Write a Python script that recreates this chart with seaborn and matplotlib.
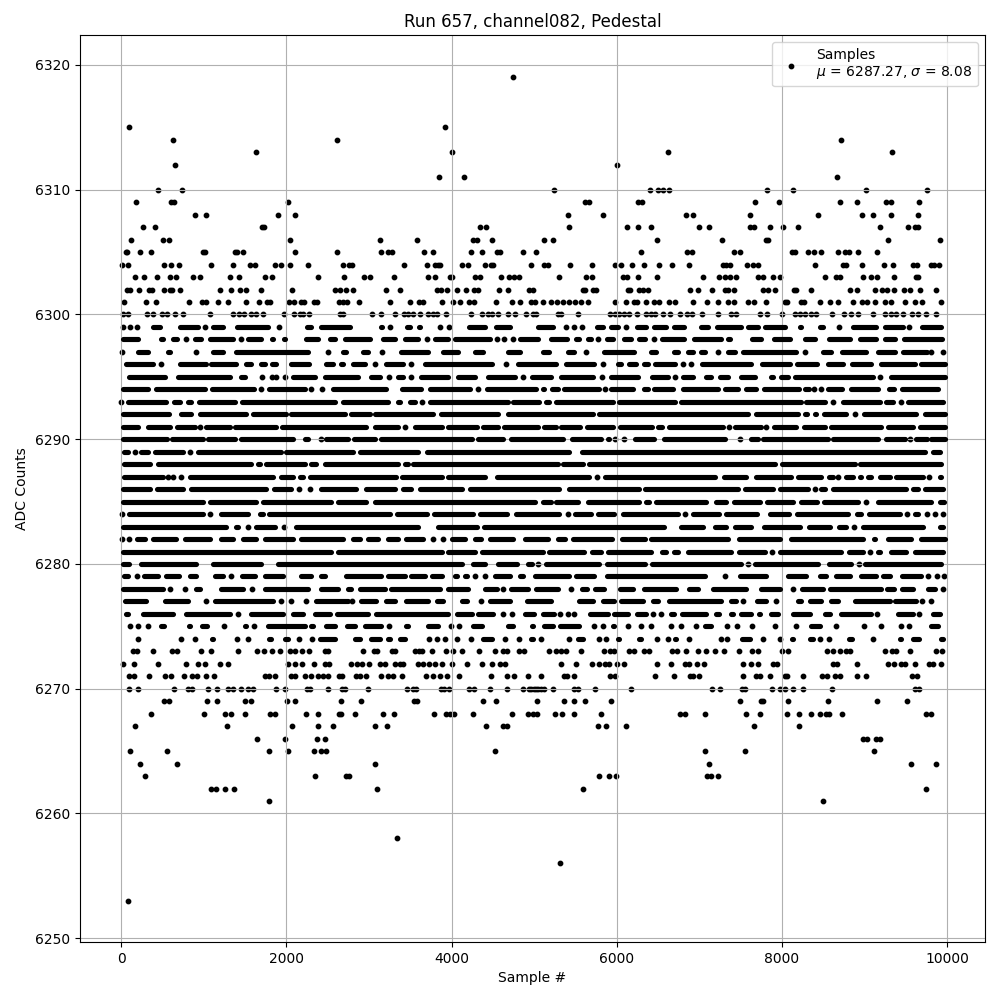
import matplotlib
matplotlib.use("Agg")
import matplotlib.pyplot as plt
import pandas as pd
import seaborn as sns

# Samples. An int is a lone sample; a (start, end) tuple is
# a stretch of one ADC level where the samples overlap into a solid run.
row_6319 = [4747]
row_6315 = [93, 3923]
row_6314 = [626, 2614, 8715]
row_6313 = [1632, 4008, 6618, 9333]
row_6312 = [650, 6000]
row_6311 = [3850, 4153, 8666]
row_6310 = [444, 735, 5236, 6404, 6497, 6561, 6630, 7818, 8133, 9018, 9757]
row_6309 = [178, 598, 634, 2020, 5612, 5661, 6255, 6303, 7673, 7963, 8703, 8909, 9260, 9321, 9660]
row_6308 = [893, 1026, 1899, 2105, 5406, 5830, 6836, 6921, 7612, 8436, 8969, 9103, 9321, 9648]
row_6307 = [263, 408, 1709, 1733, 4343, 4412, 5418, 6121, 6255, 6412, 6994, 7115, 7608, 7656, 7854, 8012, 8194, 9188, 9527, 9608, 9648]
row_6306 = [117, 505, 578, 2044, 3135, 3583, 4262, 4311, 4492, 5115, 5224, 6485, 7273, 7802, 7826, 9285, 9915]
row_6305 = [61, 77, 226, 360, 990, 1018, 1374, 1402, 1475, 2105, 2614, 3147, 3232, 3285, 3668, 3777, 4238, 4363, 4545, 4585, 4868, 5026, 6291, 6848, 6909, 7418, 7491, 8121, 8153, 8315, 8388, 8472, 8679, 8763, 8812, 8921, 9151]
row_6304 = [8, 81, 517, 602, 699, 1087, 1353, 1559, 1620, 1862, 1935, 2044, 2262, 2687, 2759, 2796, 3426, 3705, 3798, 3838, 3866, 4129, 4202, 4408, 4472, 4505, 4965, 5115, 5164, 5430, 5697, 5984, 6053, 6190, 6327, 6509, 6667, 6873, 7285, 7325, 7366, 7576, 7648, 7709, 8400, 8739, 8771, 8969, 9236, 9345, 9588, 9640, 9802, 9838, 9903]
row_6303 = [166, 275, 432, 590, 663, 869, 953, 1317, 1426, 1741, 1822, 2384, 2699, 2941, 3014, 3305, 3717, 3802, 3979, 4004, 4286, 4343, 4594, 4699, 4759, 4812, 5297, 5624, 5697, 6073, 6121, 6255, 6485, 7042, 7236, 7305, 7366, 7446, 7709, 7770, 7891, 7980, 8521, 8650, 8699, 8982, 9078, 9151, 9357, 9628, 9652]
row_6302 = [73, 113, 214, 343, 376, 517, 586, 610, 711, 1196, 1329, 1438, 1511, 1697, 2068, 2590, 2646, 2719, 2808, 3208, 3377, 3826, 3878, 3947, 4068, 4177, 4274, 4323, 4577, 4686, 4941, 4989, 5588, 5620, 5709, 5750, 6133, 6166, 6267, 6315, 6376, 6885, 6982, 7151, 7305, 7345, 7418, 7770, 7830, 7911, 8145, 8174, 8351, 8828, 8909, 9127, 9212, 9272, 9357, 9478, 9551, 9676, 9866]
row_6301 = [32, 299, 420, 820, 978, 1030, 1172, 1293, 1511, 1669, 1765, 1798, 2032, 2093, 2182, 2214, 2335, 2376, 2638, 2687, 2735, 2881, 3256, 3503, 3608, 3656, 3886, 4020, 4105, 4214, 4274, 4541, 4735, 4828, 4957, 5010, 5103, 5204, 5273, 5345, 5418, 5499, 5572, 5649, 5976, 6109, 6214, 6242, 6351, 6448, 6517, 6638, 6703, 6921, 7091, 7224, 7345, 7418, 7588, 7660, 7806, 8032, 8060, 8234, 8262, 8460, 8578, 8679, 8860, 8969, 9030, 9127, 9248, 9321, 9495, 9612, 9697, 9927]
row_6300 = [20, 81, 311, 384, 493, 553, 650, 747, 1078, 1353, 1426, 1487, 1576, 1636, 1717, 1971, 2093, 2161, 2202, 2275, 2654, 2687, 3038, 3147, 3317, 3426, 3474, 3535, 3620, 3717, 3777, 3818, 3935, 4238, 4371, 4444, 4492, 4561, 4686, 4771, 4901, 4989, 5022, 5285, 5325, 5527, 5915, 5984, 6032, 6093, 6154, 6242, 6351, 6416, 6469, 6558, 6646, 6764, 6848, 6909, 7030, 7224, 7386, 7446, 7729, 7818, 8000, 8153, 8214, 8275, 8355, 8416, 8606, 8751, 8836, 8921, 9107, 9248, 9325, 9386, 9466, 9575, 9644, 9741, 9866]
row_6299 = [20, 109, 190, (283, 311), (364, 485), (687, 950), 1018, (1091, 1252), (1386, 1798), 1911, (2093, 2141), (2230, 2323), (2404, 2788), (3002, 3030), (3123, 3184), 3256, (3341, 3373), (3442, 3515), (3584, 3636), 3862, 3967, (4190, 4426), (4513, 4727), (4820, 4836), (5023, 5245), 5386, 5487, 5580, (5737, 5850), (5911, 6032), 6113, (6226, 6376), (6436, 6618), (6671, 6840), (7002, 7123), (7196, 7527), (7568, 7729), (7770, 8052), (8194, 8255), (8327, 8376), (8436, 8517), (8598, 8626), 8691, (8840, 9163), (9224, 9487), 9539, (9677, 9943)]
row_6298 = [(0, 230), (364, 404), (465, 525), (606, 699), 788, (869, 990), (1050, 1374), 1454, (1515, 1717), (1806, 1858), (1947, 2000), (2222, 2404), (2505, 2606), (2687, 3030), (3151, 3333), (3414, 3616), 3697, (3778, 3975), (4020, 4480), 4545, 4638, 4739, (4808, 5063), (5184, 5418), (5487, 5568), (5629, 5710), 5770, (5863, 5971), (6073, 6194), (6255, 6356), 6448, (6525, 6840), (6921, 7285), (7325, 7386), (7616, 7770), (7883, 8113), (8174, 8194), (8255, 8416), (8545, 8840), (8921, 9163), (9224, 9386), (9459, 9952)]
row_6297 = [12, (182, 343), (545, 606), (768, 808), 909, (1091, 1252), (1374, 2283), (2384, 2404), 2505, (2666, 2747), (2909, 3010), 3159, (3373, 3737), (3878, 4101), (4262, 4404), (4525, 4565), (4666, 4848), (5083, 5205), (5386, 5507), 5629, (5823, 6234), (6396, 6497), (6671, 6760), (6841, 6941), (7002, 7083), 7224, (7325, 7446), (7507, 8194), 8275, (8477, 8618), (8707, 9042), (9143, 9386), (9447, 9770), 9810, 9948]
row_6296 = [(40, 404), 477, (687, 1050), (1071, 1414), (1495, 1596), (1669, 1757), (1806, 1891), (2040, 2295), (2465, 2586), (2646, 2707), (2788, 2970), 3071, (3191, 3434), 3515, (3656, 4505), 4654, (4787, 5285), (5366, 5750), 5831, (5992, 6073), (6133, 6255), (6315, 6396), (6445, 6720), 6800, 6901, (7010, 7649), (7738, 8113), (8162, 8449), (8537, 8760), (8828, 9095), (9184, 9628), (9669, 9992)]
row_6295 = [(80, 545), (670, 1333), (1434, 1515), 1709, 1826, 1879, 1980, (2060, 2363), (2444, 2889), (3010, 3151), 3244, (3333, 3434), 3515, (3616, 3979), (4060, 4303), (4424, 4787), 4868, (4949, 5225), (5305, 5730), 5819, (5911, 6275), (6404, 6639), 6707, (6780, 6945), (7063, 7164), (7233, 7366), (7487, 7689), (7754, 7790), (7851, 7911), (7972, 8093), (8141, 9123), 9184, (9305, 9992)]
row_6294 = [(0, 343), (400, 1030), (1078, 1628), 1697, (1765, 2242), 2295, 2432, (2545, 3232), (3382, 3656), (3717, 4242), 4315, (4404, 5043), (5083, 5144), (5192, 5305), (5345, 5810), 5863, (5911, 6214), (6315, 6396), (6428, 6699), (6780, 7245), (7293, 7487), (7548, 7702), (7758, 8222), (8255, 8348), 8384, 8477, (8538, 8748), (8820, 9184), (9273, 9378), (9435, 9903)]
row_6293 = [0, (60, 565), (626, 727), (788, 869), (917, 1394), (1442, 2606), (2667, 3252), (3333, 3394), (3475, 3575), 3648, (3717, 4707), (4727, 5083), (5124, 5205), (5245, 5972), (6012, 6720), (6760, 8254), (8275, 8537), 8618, (8719, 9204), (9245, 9366), 9447, (9507, 9972)]
row_6292 = [(0, 598), (703, 869), (929, 1535), (1575, 2020), (2040, 2727), (2767, 3030), (3050, 3798), (3858, 4585), (4658, 5730), (5770, 7608), (7669, 8214), (8255, 8327), (8376, 8436), (8489, 8800), 8889, (8974, 9648), (9709, 9992)]
row_6291 = [(0, 222), (303, 606), (659, 909), 957, (1010, 1333), (1362, 1899), (1927, 2990), (3059, 3373), 3434, (3535, 3899), (3939, 4323), (4363, 4585), (4618, 5063), (5103, 5285), (5305, 5580), (5617, 5972), (6024, 6444), (6485, 6566), (6618, 7305), 7358, (7414, 7770), 7810, (7879, 8194), (8246, 8537), (8578, 9224), (9265, 9608), (9649, 9992)]
row_6290 = [(0, 570), (590, 1010), (1030, 1394), (1426, 2101), (2210, 2283), 2416, (2465, 2767), (2800, 3091), (3123, 4262), (4295, 4646), (4699, 5366), (5435, 5831), (5871, 5931), 5984, 6085, (6202, 6469), (6550, 7325), 7487, (7608, 7729), (7750, 8578), (8598, 9184), (9245, 9507), 9556, (9608, 9770), (9790, 9992)]
row_6289 = [(12, 109), 162, (222, 343), (384, 768), 828, (909, 1960), (1980, 2828), (2869, 3616), (3677, 5447), (5556, 9750), (9810, 9931)]
row_6288 = [(12, 364), (424, 1596), (1636, 1697), (1737, 2242), (2283, 2384), (2444, 3373), (3414, 3495), (3515, 5305), (5325, 5608), (5649, 7931), (7980, 8901), (8921, 9951)]
row_6287 = [(12, 525), 566, 626, 719, (816, 1858), (1919, 2101), (2141, 2222), (2267, 3353), (3382, 3899), (3931, 4424), (4525, 5689), 5762, (5839, 7212), (7277, 7588), (7669, 8133), (8174, 8497), (8545, 8638), 8679, (8760, 8881), (8921, 8982), (9022, 9103), (9164, 9325), (9366, 9729), 9782, (9891, 9951)]
row_6286 = [(0, 364), (416, 768), (820, 1778), (1830, 2080), 2153, 2283, (2404, 2868), (2949, 3333), (3394, 3535), (3596, 4141), (4202, 5325), (5398, 6295), (6327, 7487), (7528, 7911), (7952, 8335), 8396, (8457, 8537), (8598, 9527), (9568, 9669), (9709, 9972)]
row_6285 = [(0, 1010), (1050, 1656), (1697, 2565), (2606, 2990), (3050, 5030), (5083, 5225), (5245, 5548), (5629, 6295), (6335, 6416), (6457, 7103), (7184, 7346), (7398, 7750), (7802, 8154), (8214, 8449), (8489, 8941), 9022, (9144, 9830), (9891, 9984)]
row_6284 = [12, (81, 1010), 1071, (1192, 1555), (1656, 1737), (1765, 3272), (3325, 3717), (3770, 4282), (4323, 4686), (4755, 5325), 5407, (5479, 5710), (5758, 5984), (6061, 6759), 6828, (6901, 7253), (7306, 7722), (7831, 8106), (8166, 8820), (8889, 8974), (9030, 9447), 9515, (9588, 9669), 9750, 9851, 9952]
row_6283 = [(0, 1293), (1374, 1434), 1535, (1616, 1879), 1967, (2101, 3616), (3818, 4323), (4376, 6598), (6760, 7063), (7164, 7346), (7414, 7649), (7762, 8234), (8303, 8598), (8667, 8800), 8869, (8962, 9729), (9891, 9972)]
row_6282 = [12, 93, (174, 303), (364, 687), (756, 1091), (1184, 1374), (1454, 1656), (1725, 2101), (2153, 2707), (2788, 2909), (2970, 3131), (3212, 3373), (3434, 3677), 3778, 3899, (3980, 4181), (4262, 4376), (4444, 4767), (4868, 5184), (5265, 5394), (5447, 5960), (6040, 6356), (6396, 7366), (7455, 7992), (8093, 9002), (9095, 9152), (9265, 9588), (9669, 9992)]
row_6281 = [(0, 2565), (2606, 3899), (3939, 4303), (4351, 5124), (5164, 5629), (5677, 5831), (5879, 6436), (6525, 6618), (6679, 6760), (6841, 7406), (7455, 7819), 7875, (7952, 8739), (8788, 9002), 9063, (9144, 9204), (9297, 9527), (9588, 9972)]
row_6280 = [(0, 121), (222, 929), (1091, 1717), (1879, 4141), (4242, 4424), (4545, 4808), (4909, 4990), 5043, (5124, 5811), (5863, 6356), (6404, 7528), 7588, (7657, 8457), (8550, 8861), 8929, (8990, 9951)]
row_6279 = [(20, 109), 190, (254, 465), (525, 715), (808, 929), (1111, 1252), 1333, (1442, 1636), (1725, 1980), (2161, 2323), (2396, 2485), (2707, 3171), (3212, 3454), (3495, 3697), (3738, 3899), (4020, 4081), (4141, 4202), 4287, 4404, (4505, 4727), (4808, 4888), (4989, 5447), (5487, 5750), (5863, 7083), (7144, 7184), 7313, (7467, 7831), (8052, 8315), (8436, 8558), (8638, 8841), (8942, 9164), (9204, 9325), (9434, 9709), 9770, 9871, 9964]
row_6278 = [(0, 525), 586, 768, (889, 970), (1184, 1495), 1588, (1725, 2283), (2404, 2646), (2727, 2808), (2868, 3212), (3252, 3878), (3939, 4222), (4383, 4565), 4618, (4699, 4949), (5003, 5314), 5447, (5556, 5661), (5722, 5863), (6024, 6214), (6315, 6740), (6849, 7002), (7144, 7588), (7730, 7992), 8133, (8222, 8517), (8566, 9224), (9257, 9378), (9435, 9608), (9749, 9871), 9952]
row_6277 = [(28, 323), (505, 828), 1030, (1111, 1858), 1939, 2060, 2242, (2343, 2767), 2800, (2889, 3111), (3192, 3333), (3434, 3737), (3798, 3919), (4101, 4202), 4351, (4444, 4727), (4889, 5225), (5527, 5730), (5811, 5992), (6032, 6335), (6416, 6517), (6618, 7285), (7366, 7467), 7527, (7681, 7830), 7923, (8174, 8255), (8315, 8497), (8578, 8699), (8861, 9325), (9345, 9648), 9701, 9810]
row_6276 = [(40, 109), (250, 646), (768, 1333), 1414, (1555, 1980), (2060, 2222), (2323, 2545), (2598, 3010), (3070, 3979), (4040, 4262), (4303, 4525), 4626, 4727, (4868, 5022), (5083, 5265), 5317, 5406, 5487, (5661, 5911), (5952, 6154), (6226, 6376), 6444, 6537, (6638, 6719), (6768, 7103), (7184, 7253), (7366, 7426), (7487, 7640), (7697, 7760), (7851, 7972), (8113, 8355), (8497, 8598), (8699, 9103), 9156, (9386, 9608), 9661, (9810, 9931)]
row_6275 = [105, 202, 323, (465, 533), (796, 856), (957, 1062), 1244, (1475, 1535), 1604, (1757, 2242), (2283, 2343), (2465, 2606), (2719, 2848), (2929, 3171), 3240, (3434, 3495), (3697, 3858), 3992, 4093, (4234, 4383), (4666, 4767), (4949, 5010), (5104, 5245), (5297, 5568), 5721, 5831, (5931, 5992), 6133, 6295, 6412, 6659, 6780, 6962, (7043, 7164), 7333, 7455, 7640, (7790, 7830), 7919, 8174, (8327, 8477), 8650, 8994, 9204, 9446, 9539, (9782, 9903)]
row_6274 = [202, 723, 893, (1079, 1131), 1402, 1539, (1604, 1636), (1765, 1838), (1959, 2040), 2149, 2307, (2384, 2606), (2808, 2909), (3010, 3151), (3212, 3272), (3353, 3454), 3729, 3826, 3923, 4060, 4238, (4363, 4505), 4642, 4820, (4941, 5010), 5083, (5265, 5305), 5418, (5507, 5608), 5790, 5867, (6000, 6053), (6255, 6315), 6485, 6618, (6687, 6740), 6869, (7123, 7164), 7265, 7333, (7495, 7628), 7770, 7980, (8101, 8154), (8315, 8396), 8460, 8569, (8788, 8869), 9103, (9406, 9466), (9567, 9677), (9911, 9971)]
row_6273 = [141, 190, 384, 614, 675, 970, 1087, 1414, 1644, 1729, 1826, 1923, 2040, 2101, 2194, 2270, 2464, 2505, 2929, 3062, 3103, 3285, 3317, 3563, 3608, 3644, 3765, 3931, 4020, 4125, 4335, 4529, 4618, 4666, 4812, 4876, 5176, 5265, 5325, 5386, 5563, 5842, 5923, 5972, 6145, 6214, 6335, 6388, 6667, 6735, 6836, 6982, 7075, 7188, 7297, 7479, 7636, 7713, 8004, 8073, 8545, 8618, 8699, 8780, 8828, 9250, 9337, 9386, 9551, 9870, 9943]
row_6272 = [20, 154, 444, 780, 929, 1018, 1196, 1293, 2020, 2101, 2194, 2335, 2472, 2517, 2780, 2856, 2917, 3002, 3139, 3196, 3321, 3373, 3414, 3588, 3656, 3729, 3798, 3886, 4008, 4189, 4371, 4484, 4585, 4650, 5321, 5503, 5697, 5782, 5855, 5903, 6000, 6089, 6485, 6655, 6828, 6873, 6970, 7054, 7527, 7624, 7709, 7891, 7939, 8618, 8666, 8909, 9285, 9353, 9446, 9495, 9612, 9781, 9834, 9927]
row_6271 = [93, 154, 335, 529, 602, 760, 856, 917, 1026, 1123, 1737, 1786, 1862, 2060, 2109, 2226, 2299, 2384, 2444, 2505, 2638, 2675, 2840, 2889, 2965, 3147, 3232, 3293, 3402, 3688, 3777, 3858, 3947, 4093, 4480, 4674, 4759, 4929, 5087, 5366, 5394, 5487, 5915, 5980, 6461, 6691, 6889, 6929, 6994, 7527, 7680, 7737, 7854, 8032, 8065, 8254, 8489, 8541, 8646, 8707, 8913, 9018, 9575, 9636]
row_6270 = [93, 202, 638, 808, 856, 1050, 1159, 1293, 1353, 1450, 1535, 1596, 1879, 1984, 2250, 2291, 2505, 2675, 2711, 2990, 3462, 3535, 3575, 3874, 3911, 3971, 4214, 4274, 4468, 4674, 4868, 4941, 4962, 4997, 5022, 5050, 5083, 5123, 5224, 5487, 5535, 5733, 6170, 7151, 7248, 7519, 7555, 7879, 7980, 8032, 8133, 8254, 8606, 9608, 9656]
row_6269 = [517, 574, 1038, 1159, 1499, 1572, 2008, 2105, 2662, 2905, 3547, 3583, 4383, 4541, 5034, 5358, 5478, 5612, 5927, 7491, 7745, 7770, 8072, 8557, 9151, 9515]
row_6268 = [360, 1002, 1256, 1329, 1499, 1802, 1862, 2238, 2384, 2638, 2662, 2832, 3171, 3305, 3790, 3935, 3979, 4028, 4262, 4735, 4929, 4985, 5030, 5257, 5333, 5478, 5806, 6764, 6824, 7067, 7564, 7733, 8060, 8206, 8351, 8460, 8537, 8569, 8727, 9749, 9806]
row_6267 = [166, 1281, 2068, 2384, 2565, 3074, 3220, 4420, 4626, 4674, 5770, 5867, 6109, 7660, 8206]
row_6266 = [1644, 1984, 2371, 2468, 8982, 9030, 9139, 9188]
row_6265 = [105, 553, 1790, 2020, 2335, 2420, 2481, 4529, 7067, 7551, 9115]
row_6264 = [226, 675, 3074, 7115, 9563, 9866]
row_6263 = [287, 2347, 2723, 2755, 5782, 5903, 5992, 7091, 7139, 7224]
row_6262 = [1087, 1147, 1256, 1366, 3099, 5588, 9745]
row_6261 = [1790, 8497]
row_6258 = [3341]
row_6256 = [5309]
row_6253 = [81]

levels = [6319, 6315, 6314, 6313, 6312, 6311, 6310, 6309, 6308, 6307, 6306, 6305, 6304, 6303, 6302, 6301,
          6300, 6299, 6298, 6297, 6296, 6295, 6294, 6293, 6292, 6291, 6290, 6289, 6288, 6287, 6286, 6285,
          6284, 6283, 6282, 6281, 6280, 6279, 6278, 6277, 6276, 6275, 6274, 6273, 6272, 6271, 6270, 6269,
          6268, 6267, 6266, 6265, 6264, 6263, 6262, 6261, 6258, 6256, 6253]
rows = [row_6319, row_6315, row_6314, row_6313, row_6312, row_6311, row_6310, row_6309, row_6308, row_6307,
        row_6306, row_6305, row_6304, row_6303, row_6302, row_6301, row_6300, row_6299, row_6298, row_6297,
        row_6296, row_6295, row_6294, row_6293, row_6292, row_6291, row_6290, row_6289, row_6288, row_6287,
        row_6286, row_6285, row_6284, row_6283, row_6282, row_6281, row_6280, row_6279, row_6278, row_6277,
        row_6276, row_6275, row_6274, row_6273, row_6272, row_6271, row_6270, row_6269, row_6268, row_6267,
        row_6266, row_6265, row_6264, row_6263, row_6262, row_6261, row_6258, row_6256, row_6253]

title = "Run 657, channel082, Pedestal"
x_label = "Sample #"
y_label = "ADC Counts"
legend_label = "Samples\n$\\mu$ = 6287.27, $\\sigma$ = 8.08"

# Run ends were read at the outer edge of the last dot; its centre lies this far in.
edge_to_centre = 20

dots, runs = [], []
run_id = 0
for level, row in zip(levels, rows):
    for item in row:
        if isinstance(item, tuple):
            start = item[0] + edge_to_centre
            end = max(start, item[1] - edge_to_centre)
            runs.append({"sample": start, "adc": level, "run": run_id})
            runs.append({"sample": end, "adc": level, "run": run_id})
            run_id += 1
        else:
            dots.append({"sample": item, "adc": level})
dots = pd.DataFrame(dots)
runs = pd.DataFrame(runs)

fig, ax = plt.subplots(figsize=(10, 10), dpi=100)
sns.lineplot(data=runs, x="sample", y="adc", units="run", estimator=None, sort=False,
             color="black", linewidth=3.7, solid_capstyle="round", legend=False, ax=ax)
sns.scatterplot(data=dots, x="sample", y="adc", marker=".", s=40, color="black",
                edgecolor="black", linewidth=1, label=legend_label, ax=ax)
ax.grid(True)
ax.set_title(title)
ax.set_xlabel(x_label)
ax.set_ylabel(y_label)
ax.legend(loc="upper right")
ax.set_xlim(-498, 10458)
ax.set_ylim(6249.7, 6322.4)
fig.subplots_adjust(left=0.080, right=0.985, top=0.965, bottom=0.058)
fig.savefig("out.png", dpi=100)
